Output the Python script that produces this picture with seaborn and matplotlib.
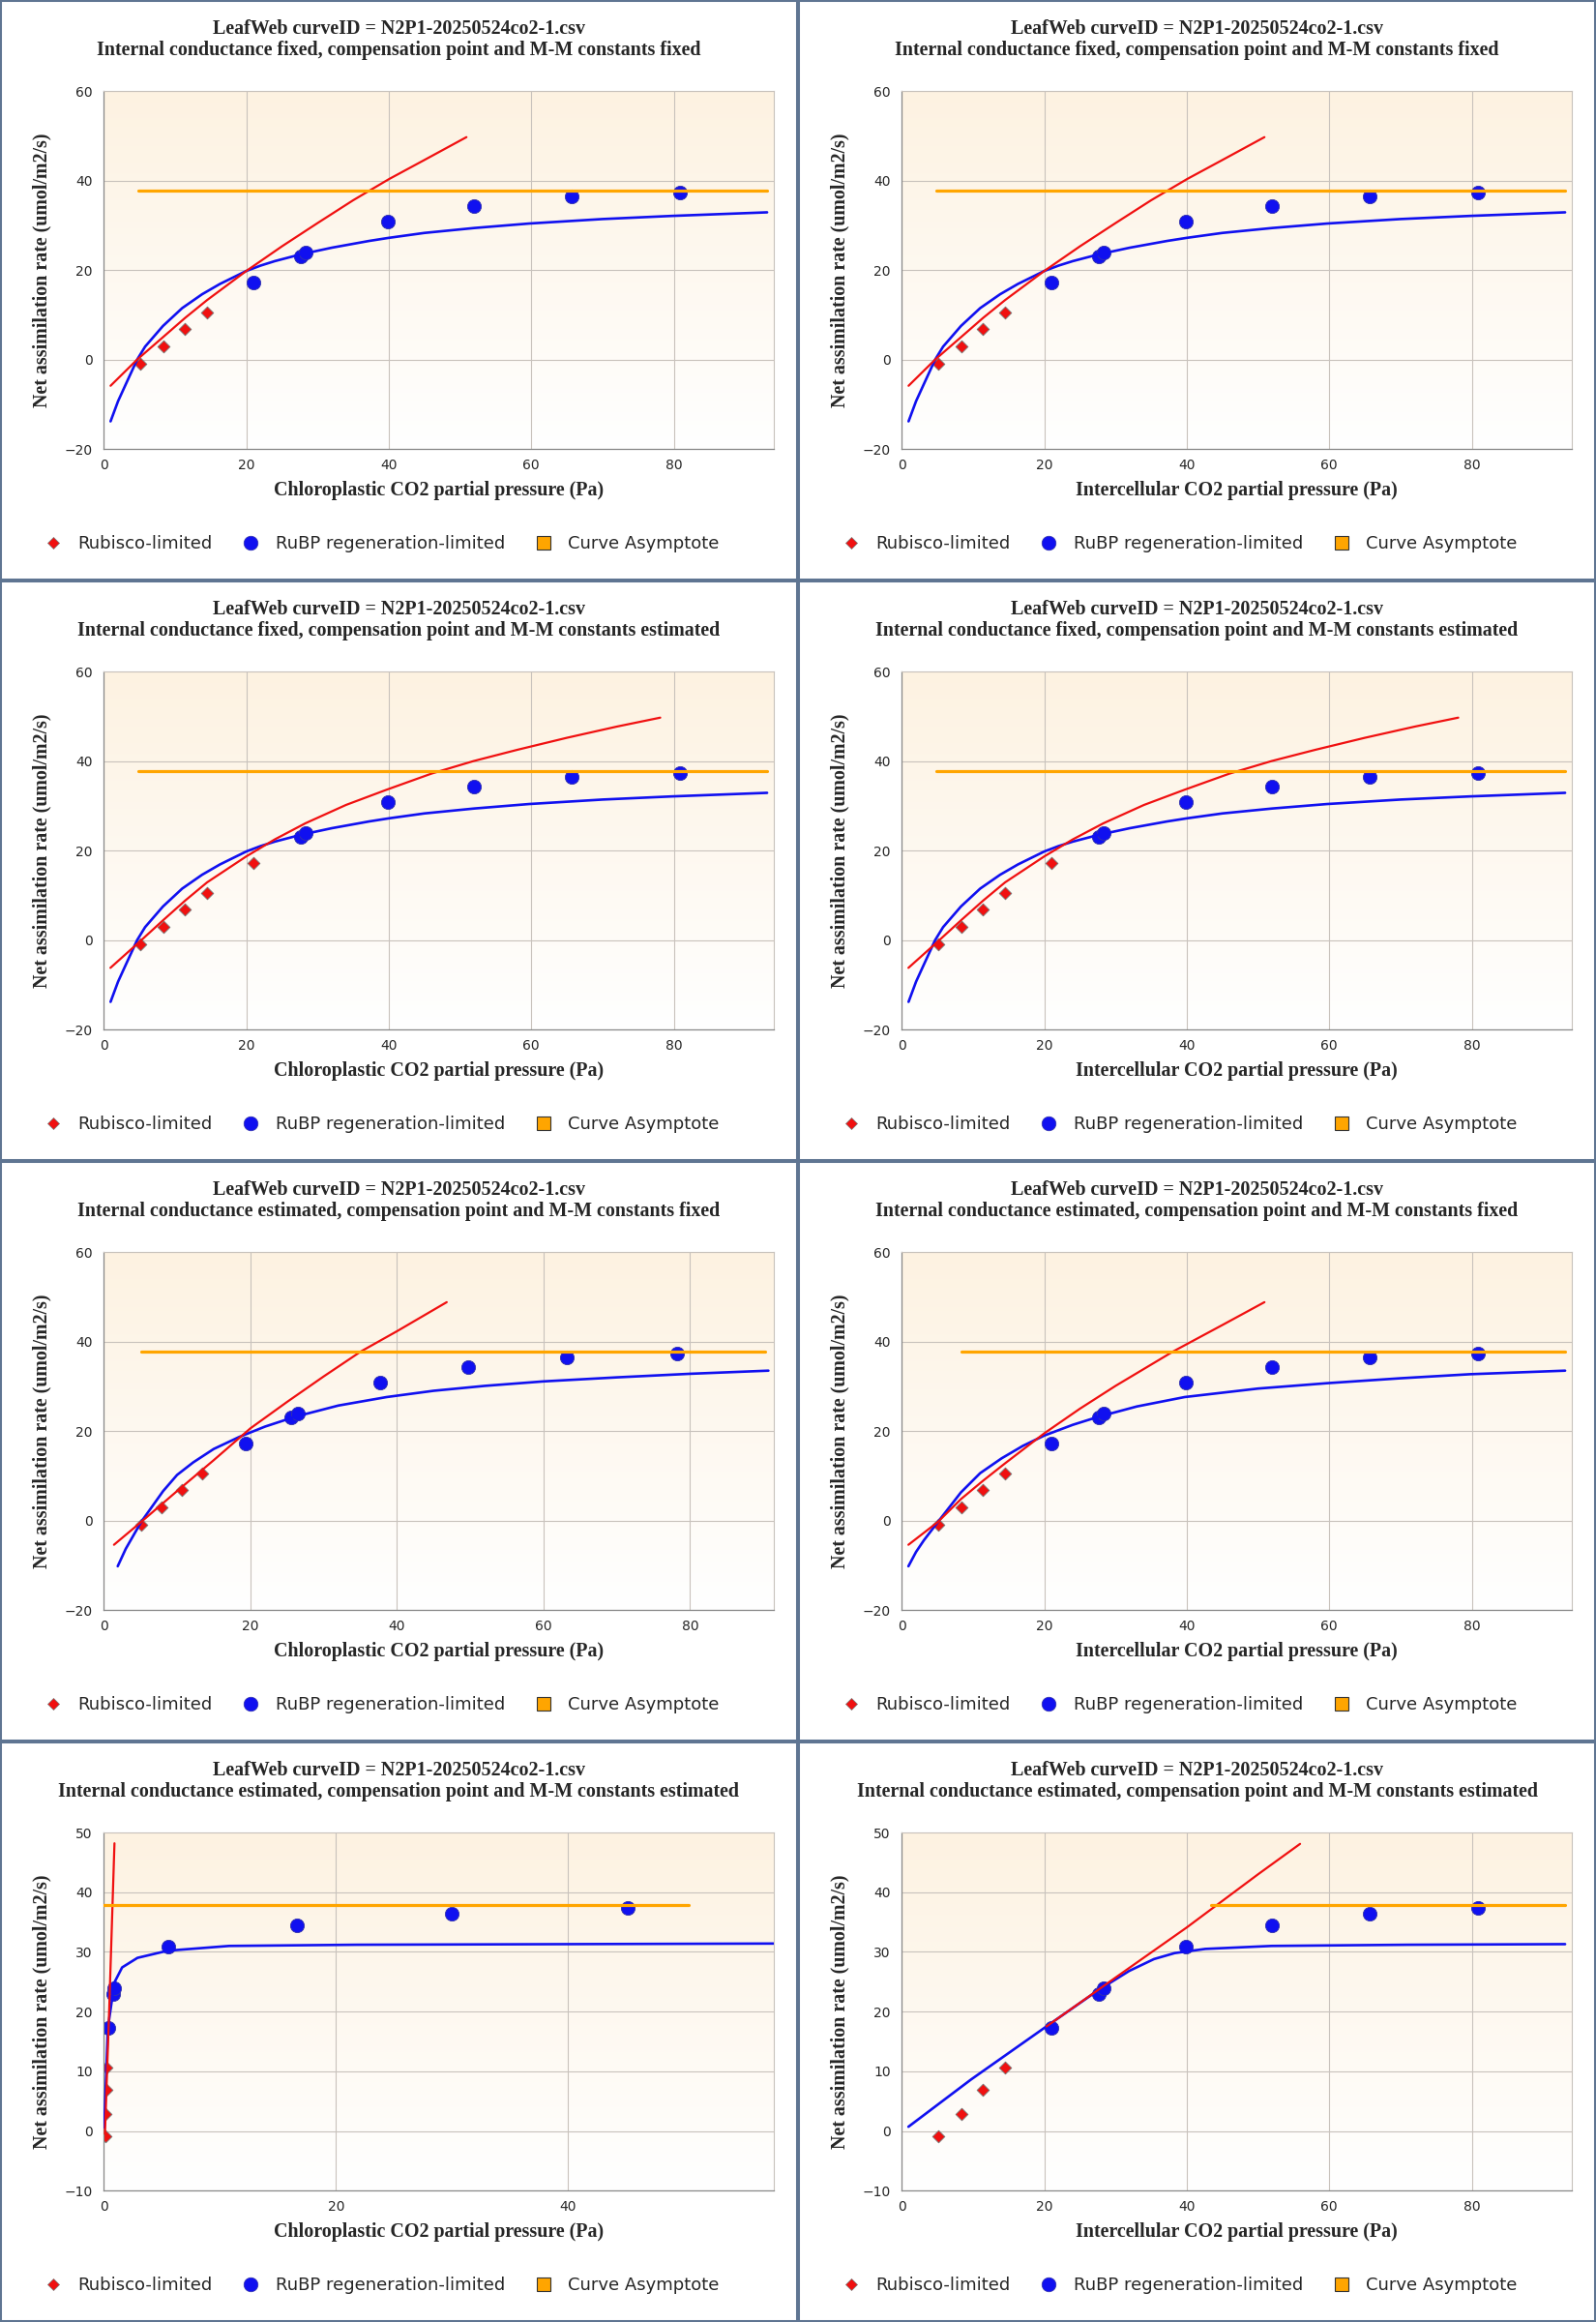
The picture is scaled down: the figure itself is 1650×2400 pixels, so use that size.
import numpy as np
import pandas as pd
import seaborn as sns
import matplotlib.pyplot as plt
from matplotlib.lines import Line2D

# measured net assimilation (umol/m2/s)
a_obs = [-0.9, 2.9, 6.9, 10.6, 17.2, 23.0, 23.9, 30.9, 34.4, 36.4, 37.4]
# CO2 partial pressure of the points (Pa)
p_obs = [5.07, 8.36, 11.4, 14.5, 21.0, 27.6, 28.4, 39.9, 52.0, 65.7, 80.9]
p_obs_gm = [5.1, 7.9, 10.6, 13.4, 19.4, 25.6, 26.5, 37.7, 49.7, 63.2, 78.3]
p_obs_all = [0.13, 0.18, 0.22, 0.26, 0.35, 0.79, 0.92, 5.53, 16.6, 30.0, 45.1]

# fit 1: gm fixed, constants fixed
red1_x = [0.95, 4.68, 8.3, 11.4, 14.5, 20, 25, 30, 35, 40, 45, 50.9]
red1_y = [-5.85, 0, 5.0, 9.3, 13.3, 19.8, 25.3, 30.5, 35.6, 40.3, 44.6, 49.7]
blue1_x = [0.95, 2, 3.09, 4.68, 5.8, 8.3, 11.0, 13.8, 16.3, 20, 22, 24, 27.6, 32, 37.2,
           40, 45, 52, 59.7, 70, 79.7, 93.1]
blue1_y = [-13.8, -9.3, -5.5, 0, 2.9, 7.5, 11.5, 14.6, 16.9, 19.8, 21.0, 22.0, 23.5,
           25.0, 26.5, 27.2, 28.3, 29.4, 30.4, 31.4, 32.1, 32.9]

# fit 2: gm fixed, constants estimated
red2_x = [0.93, 5.07, 8.3, 11.4, 14.5, 20, 24, 28.3, 34, 39.7, 46, 51.9, 58, 65, 72, 78.1]
red2_y = [-6.2, -0.3, 4.4, 8.8, 12.9, 18.7, 22.5, 26.1, 30.2, 33.6, 37.2, 40.0, 42.5,
          45.2, 47.7, 49.7]

# fit 3: gm estimated, constants fixed (chloroplastic / intercellular)
red3_x = [1.39, 5.1, 10, 15, 20, 25, 30, 35.1, 40, 46.8]
red3_y = [-5.4, -0.3, 6.6, 13.5, 20.6, 26.5, 32.2, 37.8, 42.3, 48.8]
blue3_x = [1.9, 3, 5.1, 8.1, 10, 12.2, 15, 18.5, 22, 26.1, 32, 38.6, 45, 52, 60, 70, 80, 90.7]
blue3_y = [-10.2, -6.3, -0.3, 6.6, 10.2, 13.0, 16.0, 18.7, 21.0, 23.2, 25.7, 27.6, 29.0,
           30.1, 31.1, 32.0, 32.8, 33.5]
red3i_x = [0.93, 5.07, 8.3, 11.4, 14.5, 20, 25, 30, 38.1, 45, 50.9]
red3i_y = [-5.4, -0.3, 4.8, 8.9, 12.8, 19.5, 25.0, 30.1, 37.8, 43.7, 48.8]
blue3i_x = [0.93, 2, 3.1, 5.07, 8.3, 11, 14, 17, 20, 24, 27.6, 33, 39.7, 50, 59.7, 70,
            79.7, 93.1]
blue3i_y = [-10.2, -7.0, -4.4, -0.3, 6.3, 10.6, 13.9, 16.7, 19.0, 21.4, 23.2, 25.5,
            27.6, 29.5, 30.7, 31.8, 32.7, 33.5]

# fit 4: everything estimated
red4_x = [0.1, 0.46, 0.92]
red4_y = [-0.5, 20, 48.2]
blue4_x = [0.04, 0.35, 0.92, 1.58, 2.9, 5.5, 10.8, 21.8, 40, 57.7]
blue4_y = [0.6, 17.2, 24.9, 27.4, 29.0, 30.2, 31.0, 31.2, 31.3, 31.4]
red4i_x = [20.3, 30, 40, 50, 55.9]
red4i_y = [17.5, 25.7, 34.1, 43.0, 48.1]
blue4i_x = [0.93, 9.7, 21, 27.6, 31.9, 35.4, 38.3, 42.6, 51.9, 71.1, 93.1]
blue4i_y = [0.7, 8.6, 18.1, 23.6, 26.8, 28.8, 29.8, 30.5, 31.0, 31.2, 31.3]

subtitles = [
    "Internal conductance fixed, compensation point and M-M constants fixed",
    "Internal conductance fixed, compensation point and M-M constants estimated",
    "Internal conductance estimated, compensation point and M-M constants fixed",
    "Internal conductance estimated, compensation point and M-M constants estimated",
]
xlabels = ["Chloroplastic CO2 partial pressure (Pa)", "Intercellular CO2 partial pressure (Pa)"]

panels = [
    dict(p=p_obs, n_rub=4, red=(red1_x, red1_y), blue=(blue1_x, blue1_y), asym=(4.9, 93.1, 37.8), xmax=94.0, ylim=(-20, 60)),
    dict(p=p_obs, n_rub=4, red=(red1_x, red1_y), blue=(blue1_x, blue1_y), asym=(4.9, 93.1, 37.8), xmax=94.0, ylim=(-20, 60)),
    dict(p=p_obs, n_rub=5, red=(red2_x, red2_y), blue=(blue1_x, blue1_y), asym=(4.9, 93.1, 37.8), xmax=94.0, ylim=(-20, 60)),
    dict(p=p_obs, n_rub=5, red=(red2_x, red2_y), blue=(blue1_x, blue1_y), asym=(4.9, 93.1, 37.8), xmax=94.0, ylim=(-20, 60)),
    dict(p=p_obs_gm, n_rub=4, red=(red3_x, red3_y), blue=(blue3_x, blue3_y), asym=(5.1, 90.3, 37.8), xmax=91.4, ylim=(-20, 60)),
    dict(p=p_obs, n_rub=4, red=(red3i_x, red3i_y), blue=(blue3i_x, blue3i_y), asym=(8.4, 93.1, 37.8), xmax=94.0, ylim=(-20, 60)),
    dict(p=p_obs_all, n_rub=4, red=(red4_x, red4_y), blue=(blue4_x, blue4_y), asym=(0.0, 50.4, 37.9), xmax=57.7, ylim=(-10, 50)),
    dict(p=p_obs, n_rub=4, red=(red4i_x, red4i_y), blue=(blue4i_x, blue4i_y), asym=(43.4, 93.1, 37.9), xmax=94.0, ylim=(-10, 50)),
]

sns.set_style("white")
plt.rcParams['font.family'] = ['DejaVu Sans']
serif = ['Liberation Serif', 'DejaVu Serif']

W, H = 1650, 2400
PW, PH = 825, 600
fig = plt.figure(figsize=(W / 100, H / 100), dpi=100)

RED, BLUE, ORANGE = '#f01010', '#1010f0', '#ffa500'
grad = np.linspace(0, 1, 256).reshape(-1, 1)
top_col = np.array([253, 242, 225]) / 255.0
bg = np.ones((256, 1, 3)) * (1 - grad[..., None]) * top_col + np.ones((256, 1, 3)) * grad[..., None]

for i, pn in enumerate(panels):
    r, c = divmod(i, 2)
    ox, oy = c * PW, r * PH
    left, right = ox + 107.3, ox + 799.7
    top, bottom = oy + 94.1, oy + 464.2
    ax = fig.add_axes([left / W, 1 - bottom / H, (right - left) / W, (bottom - top) / H])
    ax.imshow(bg, extent=(0, 1, 0, 1), transform=ax.transAxes, aspect='auto', zorder=0)
    ax.set_axisbelow(True)
    ax.grid(True, color='#c8c2bc', lw=0.8)

    n = pn['n_rub']
    df = pd.DataFrame({'p': pn['p'], 'a': a_obs})
    sns.scatterplot(data=df.iloc[:n], x='p', y='a', marker='D', s=42, color=RED,
                    edgecolor='#777777', linewidth=0.6, ax=ax, zorder=2)
    sns.scatterplot(data=df.iloc[n:], x='p', y='a', marker='o', s=105, color=BLUE,
                    edgecolor='#3333aa', linewidth=0.6, ax=ax, zorder=2)
    sns.lineplot(x=pn['blue'][0], y=pn['blue'][1], sort=False, estimator=None,
                 color=BLUE, lw=1.9, ax=ax, zorder=3)
    sns.lineplot(x=pn['red'][0], y=pn['red'][1], sort=False, estimator=None,
                 color=RED, lw=1.6, ax=ax, zorder=4)
    x0, x1, ya = pn['asym']
    sns.lineplot(x=[x0, x1], y=[ya, ya], sort=False, estimator=None,
                 color=ORANGE, lw=2.3, ax=ax, zorder=5)

    ax.set_xlim(0, pn['xmax'])
    ax.set_ylim(*pn['ylim'])
    ax.set_xticks(np.arange(0, pn['xmax'], 20))
    step = 20 if pn['ylim'][0] == -20 else 10
    ax.set_yticks(np.arange(pn['ylim'][0], pn['ylim'][1] + 1, step))
    ax.tick_params(axis='y', length=5.8, width=0.8, color='#666666', labelsize=10, pad=2.5)
    ax.tick_params(axis='x', length=4.3, width=0.8, color='#666666', labelsize=10, pad=3)
    for s in ['left', 'bottom']:
        ax.spines[s].set_color('#888888')
        ax.spines[s].set_linewidth(0.9)
    for s in ['top', 'right']:
        ax.spines[s].set_color('#c8c2bc')
        ax.spines[s].set_linewidth(0.8)
    ax.set_xlabel('')
    ax.set_ylabel('')

    cx = (ox + PW / 2) / W
    fig.text(cx, 1 - (oy + 30) / H, "LeafWeb curveID = N2P1-20250524co2-1.csv",
             ha='center', va='center', fontsize=14.4, fontweight='bold', family=serif)
    fig.text(cx, 1 - (oy + 52) / H, subtitles[r], ha='center', va='center',
             fontsize=14.4, fontweight='bold', family=serif)
    fig.text((left + right) / 2 / W, 1 - (oy + 507) / H, xlabels[c], ha='center', va='center',
             fontsize=14.4, fontweight='bold', family=serif)
    fig.text((ox + 43) / W, 1 - (top + bottom) / 2 / H, "Net assimilation rate (umol/m2/s)",
             ha='center', va='center', rotation=90, fontsize=14.4, fontweight='bold', family=serif)

    handles = [
        Line2D([], [], ls='none', marker='D', markersize=6.2, color=RED, markeredgecolor='#777777', markeredgewidth=0.5),
        Line2D([], [], ls='none', marker='o', markersize=10.5, color=BLUE, markeredgecolor='#3333aa', markeredgewidth=0.5),
        Line2D([], [], ls='none', marker='s', markersize=9.5, color=ORANGE, markeredgecolor='#333333', markeredgewidth=0.8),
    ]
    ax.legend(handles, ["Rubisco-limited", "RuBP regeneration-limited", "Curve Asymptote"],
              loc='center left', bbox_to_anchor=((ox + 46) / W, 1 - (oy + 562) / H),
              bbox_transform=fig.transFigure, ncol=3, frameon=False, fontsize=13,
              handlelength=1.0, handletextpad=0.89, columnspacing=1.72,
              borderpad=0, borderaxespad=0)

# panel frames
frame = '#5f7592'
for xb in [0, PW, W]:
    fig.add_artist(Line2D([xb / W, xb / W], [0, 1], color=frame, lw=2.9, transform=fig.transFigure))
for yb in [0, PH, 2 * PH, 3 * PH, H]:
    fig.add_artist(Line2D([0, 1], [yb / H, yb / H], color=frame, lw=2.9, transform=fig.transFigure))

fig.savefig("out.png", dpi=100)
